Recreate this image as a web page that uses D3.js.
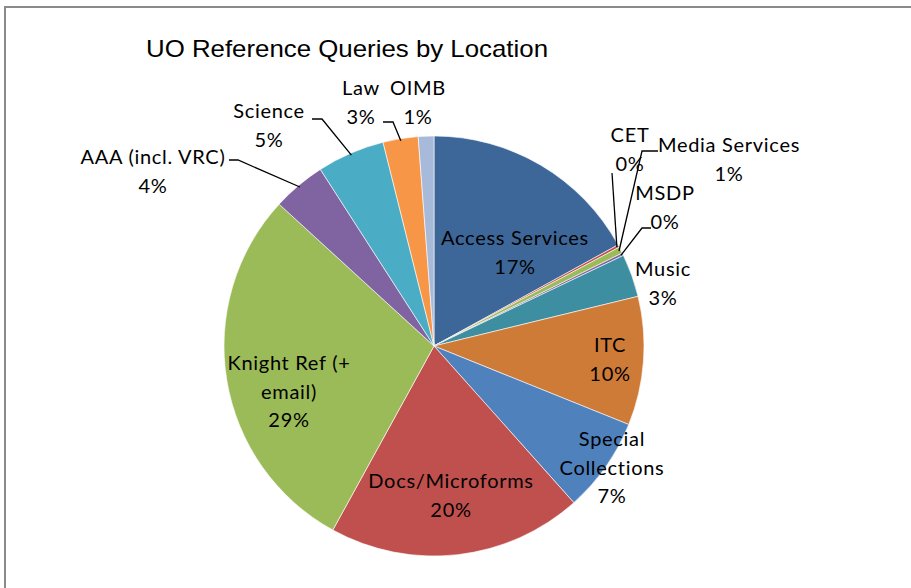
<!DOCTYPE html>
<html>
<head>
<meta charset="utf-8">
<script src="https://cdn.jsdelivr.net/npm/d3@7"></script>
<style>
  html, body { margin: 0; padding: 0; background: #fff; }
  svg { display: block; }
</style>
</head>
<body>
<svg id="chart" width="911" height="588"></svg>
<script>
// ---- data ----
const categories = ["Access Services", "CET", "Media Services", "MSDP", "Music", "ITC",
  "Special Collections", "Docs/Microforms", "Knight Ref (+ email)", "AAA (incl. VRC)",
  "Science", "Law", "OIMB"];
const values = [17.0, 0.2, 0.5, 0.2, 3.3, 9.9, 7.3, 19.6, 28.8, 4.1, 5.2, 2.7, 1.2];
const colors = ["#3D6798", "#C0504D", "#9BBB59", "#8064A2", "#3C8EA0", "#CF7B38",
  "#4F81BD", "#C0504D", "#9BBB59", "#8064A2", "#4BACC6", "#F79646", "#A8BAD9"];
const title = "UO Reference Queries by Location";

// ---- layout (label placement, not data) ----
const labelLayout = {
  "Access Services":      { x: 515, y: 238, lines: ["Access Services"] },
  "CET":                  { x: 630, y: 135, lines: ["CET"], leader: [[612, 173]] },
  "Media Services":       { x: 729, y: 145, lines: ["Media Services"], leader: [[658, 151], [642, 151]] },
  "MSDP":                 { x: 665, y: 193, lines: ["MSDP"], leader: [[651, 228], [642, 228]] },
  "Music":                { x: 663, y: 269, lines: ["Music"] },
  "ITC":                  { x: 610, y: 345, lines: ["ITC"] },
  "Special Collections":  { x: 612, y: 439, lines: ["Special", "Collections"] },
  "Docs/Microforms":      { x: 451, y: 481, lines: ["Docs/Microforms"] },
  "Knight Ref (+ email)": { x: 289, y: 363, lines: ["Knight Ref (+", "email)"] },
  "AAA (incl. VRC)":      { x: 153, y: 157, lines: ["AAA (incl. VRC)"], leader: [[229, 160], [238, 160]] },
  "Science":              { x: 269, y: 111, lines: ["Science"], leader: [[312, 119], [322, 119]] },
  "Law":                  { x: 361, y: 88, lines: ["Law"], leader: [[383, 122], [393, 122]] },
  "OIMB":                 { x: 418, y: 88, lines: ["OIMB"] }
};

const svg = d3.select("#chart");
const cx = 434, cy = 346, R = 210;
const lineH = 28.5;
const font = "Lato, 'Open Sans', sans-serif";

// border
svg.append("path")
  .attr("d", "M5,588 L5,7 L911,7")
  .attr("fill", "none").attr("stroke", "#8a8a8a").attr("stroke-width", 2);

// title
svg.append("text")
  .attr("x", 146).attr("y", 57)
  .attr("font-family", "'Liberation Sans', Arial, sans-serif")
  .attr("font-size", 24)
  .attr("textLength", 402).attr("lengthAdjust", "spacingAndGlyphs")
  .attr("fill", "#000")
  .text(title);

const data = categories.map((c, i) => ({ name: c, value: values[i], color: colors[i] }));
const pie = d3.pie().value(d => d.value).sort(null);
const arcs = pie(data);
const arc = d3.arc().innerRadius(0).outerRadius(R);

const g = svg.append("g").attr("transform", `translate(${cx},${cy})`);
g.selectAll("path.slice").data(arcs).enter().append("path")
  .attr("class", "slice")
  .attr("d", arc)
  .attr("fill", d => d.data.color)
  .attr("stroke", "#fff").attr("stroke-width", 0.6);

// leader lines
const outerPt = (d, r) => {
  const a = (d.startAngle + d.endAngle) / 2;
  return [cx + r * Math.sin(a), cy - r * Math.cos(a)];
};
arcs.forEach(d => {
  const L = labelLayout[d.data.name];
  if (!L.leader) return;
  const pts = L.leader.concat([outerPt(d, R - 2)]);
  svg.append("path")
    .attr("d", d3.line()(pts))
    .attr("fill", "none").attr("stroke", "#000").attr("stroke-width", 1.3);
});

// labels
arcs.forEach(d => {
  const L = labelLayout[d.data.name];
  const pct = Math.round(d.data.value) + "%";
  const lines = L.lines.concat([pct]);
  const t = svg.append("text")
    .attr("text-anchor", "middle")
    .attr("font-family", font)
    .attr("font-size", 20)
    .attr("letter-spacing", 0.7)
    .attr("fill", "#000");
  lines.forEach((s, i) => {
    t.append("tspan").attr("x", L.x).attr("y", L.y + 7 + i * lineH).text(s);
  });
});
</script>
</body>
</html>
